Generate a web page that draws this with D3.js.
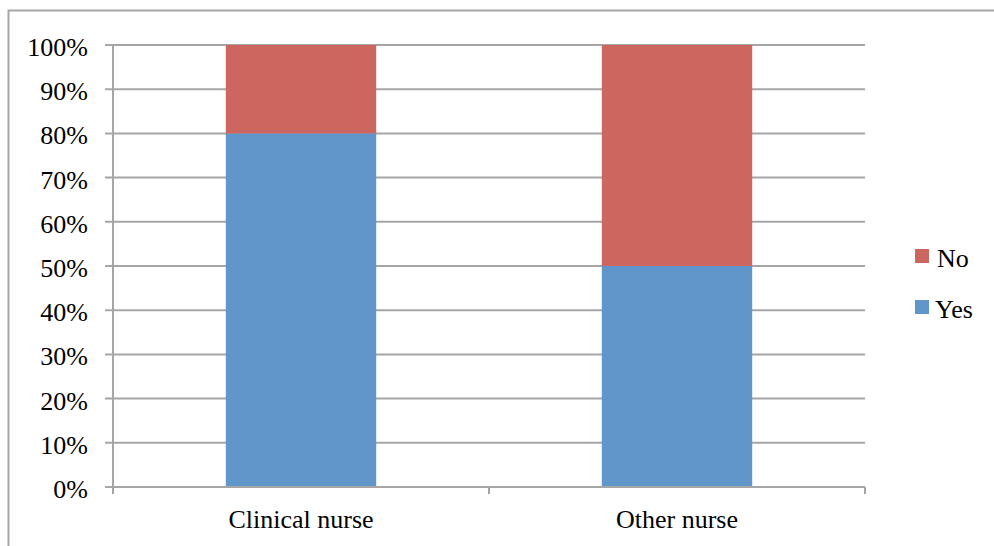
<!DOCTYPE html>
<head>
    <meta charset="utf-8">
    <title>Nurse chart</title>
    <style>
        body { margin: 0; background: #fff; }
        text { font-family: "Liberation Serif", "Times New Roman", serif; fill: #000; }
    </style>
</head>
<body>
    <script src="https://d3js.org/d3.v7.min.js"></script>
    <script>
        var categories = ["Clinical nurse", "Other nurse"];
        var yesValues = [80, 50];
        var noValues = [20, 50];
        var yTicks = [0, 10, 20, 30, 40, 50, 60, 70, 80, 90, 100];
        var seriesNames = ["No", "Yes"];
        var colors = { Yes: "#6096CA", No: "#CC665F" };

        var margin = { top: 45, left: 113 },
            width = 865 - 113,
            height = 487 - 45;

        var svg = d3.select("body").append("svg")
            .attr("width", 994)
            .attr("height", 546);

        // outer frame
        svg.append("path")
            .attr("d", "M8.5,546 L8.5,10.5 L994,10.5")
            .attr("fill", "none")
            .attr("stroke", "#A6A6A6")
            .attr("stroke-width", 2);

        var g = svg.append("g")
            .attr("transform", "translate(" + margin.left + "," + margin.top + ")");

        var x = d3.scaleBand().domain(categories).range([0, width]);
        var y = d3.scaleLinear().domain([0, 100]).range([height, 0]);

        // gridlines
        g.selectAll(".grid").data(yTicks).enter().append("line")
            .attr("x1", -8).attr("x2", width)
            .attr("y1", function (d) { return y(d); })
            .attr("y2", function (d) { return y(d); })
            .attr("stroke", "#A6A6A6")
            .attr("stroke-width", 2);

        var rows = categories.map(function (c, i) {
            return { cat: c, Yes: yesValues[i], No: noValues[i] };
        });
        var stack = d3.stack().keys(["Yes", "No"])(rows);
        var bw = x.bandwidth() * 0.4;

        stack.forEach(function (s) {
            g.selectAll(".bar-" + s.key).data(s).enter().append("rect")
                .attr("x", function (d) { return x(d.data.cat) + (x.bandwidth() - bw) / 2; })
                .attr("width", bw)
                .attr("y", function (d) { return y(d[1]); })
                .attr("height", function (d) { return y(d[0]) - y(d[1]); })
                .attr("fill", colors[s.key]);
        });

        // y axis line
        g.append("line")
            .attr("x1", 0).attr("x2", 0)
            .attr("y1", 0).attr("y2", height)
            .attr("stroke", "#A6A6A6").attr("stroke-width", 2);

        // x axis line and ticks
        g.append("line")
            .attr("x1", -8).attr("x2", width)
            .attr("y1", height).attr("y2", height)
            .attr("stroke", "#A6A6A6").attr("stroke-width", 2);
        var xTickPos = [0].concat(categories.map(function (c) { return x(c) + x.bandwidth(); }));
        g.selectAll(".xtick").data(xTickPos).enter().append("line")
            .attr("x1", function (d) { return d; })
            .attr("x2", function (d) { return d; })
            .attr("y1", height).attr("y2", height + 7)
            .attr("stroke", "#A6A6A6").attr("stroke-width", 2);

        // y labels
        g.selectAll(".ylab").data(yTicks).enter().append("text")
            .attr("x", -25)
            .attr("y", function (d) { return y(d) + 11; })
            .attr("text-anchor", "end")
            .style("font-size", "26px")
            .text(function (d) { return d + "%"; });

        // x labels
        g.selectAll(".xlab").data(categories).enter().append("text")
            .attr("x", function (d) { return x(d) + x.bandwidth() / 2; })
            .attr("y", height + 41)
            .attr("text-anchor", "middle")
            .style("font-size", "26px")
            .text(function (d) { return d; });

        // legend
        var legend = svg.selectAll(".legend").data(seriesNames).enter().append("g")
            .attr("transform", function (d, i) { return "translate(915," + (249 + i * 51) + ")"; });
        legend.append("rect")
            .attr("width", 14).attr("height", 14)
            .attr("fill", function (d) { return colors[d]; });
        legend.append("text")
            .attr("x", function (d) { return d === "No" ? 22 : 20; })
            .attr("y", 18)
            .style("font-size", "26px")
            .text(function (d) { return d; });
    </script>
</body>
